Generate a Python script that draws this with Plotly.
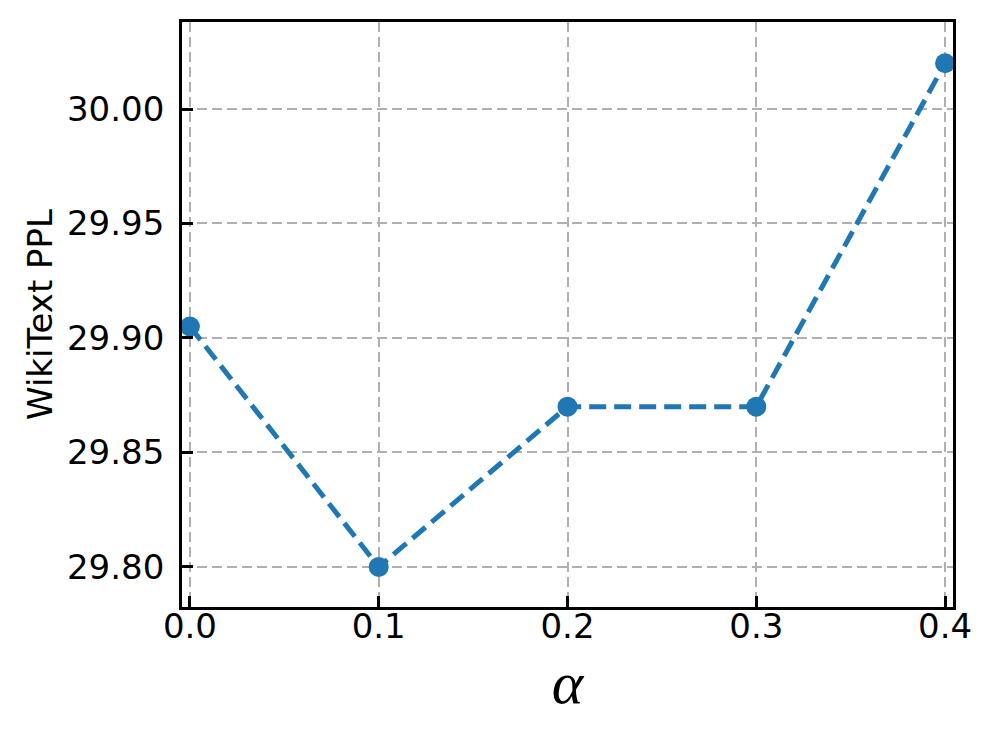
import plotly.graph_objects as go

# data
alpha = [0.0, 0.1, 0.2, 0.3, 0.4]
ppl = [29.905, 29.80, 29.87, 29.87, 30.02]

x_ticks = [0.0, 0.1, 0.2, 0.3, 0.4]
y_ticks = [29.80, 29.85, 29.90, 29.95, 30.00]

FONT = "DejaVu Sans"
BLUE = "#1f77b4"

fig = go.Figure()
fig.add_trace(go.Scatter(
    x=alpha, y=ppl, mode="lines+markers",
    line=dict(color=BLUE, width=5, dash="17px,8px"),
    marker=dict(color=BLUE, size=20),
    cliponaxis=False, showlegend=False
))

axis_common = dict(
    showline=True, linecolor="black", linewidth=2.8, mirror=True,
    ticks="inside", ticklen=11, tickwidth=2.8, tickcolor="black",
    showgrid=True, gridcolor="#b0b0b0", gridwidth=2.2, griddash="10px,5px",
    zeroline=False,
    tickfont=dict(family=FONT, size=34, color="black"),
)

fig.update_xaxes(
    range=[-0.0042, 0.4042], tickvals=x_ticks, tickformat=".1f",
    title=dict(text="<i>α</i>", font=dict(family="Liberation Serif", size=60, color="black"),
               standoff=17),
    ticklabelstandoff=-13,
    **axis_common
)
fig.update_yaxes(
    range=[29.7825, 30.038], tickvals=y_ticks, tickformat=".2f",
    title=dict(text="WikiText PPL", font=dict(family=FONT, size=34, color="black"),
               standoff=5),
    ticklabelstandoff=8,
    **axis_common
)

fig.update_layout(
    width=997, height=738,
    margin=dict(l=174, r=52, t=14, b=139),
    plot_bgcolor="white", paper_bgcolor="white",
    font=dict(family=FONT, color="black"),
)

fig.write_html("out.html")
